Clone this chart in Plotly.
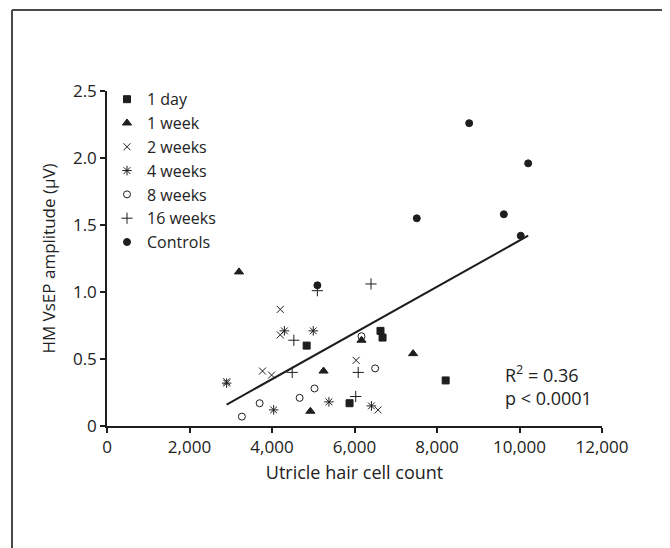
import plotly.graph_objects as go

# ---- data ----
day1_x = [4840, 5880, 6630, 6680, 8210]
day1_y = [0.60, 0.17, 0.71, 0.66, 0.34]

week1_x = [3200, 5250, 4930, 6170, 7420]
week1_y = [1.15, 0.41, 0.11, 0.64, 0.54]

week2_x = [4200, 4200, 3770, 3990, 6040, 6570, 2900]
week2_y = [0.87, 0.68, 0.41, 0.38, 0.49, 0.12, 0.33]

week4_x = [4300, 5000, 2900, 5380, 4040, 6410]
week4_y = [0.71, 0.71, 0.32, 0.18, 0.12, 0.15]

week8_x = [5030, 4670, 3700, 3270, 6170, 6500]
week8_y = [0.28, 0.21, 0.17, 0.07, 0.67, 0.43]

week16_x = [5100, 4530, 4490, 6400, 6090, 6030]
week16_y = [1.01, 0.64, 0.40, 1.06, 0.40, 0.22]

ctrl_x = [5100, 8780, 10210, 7510, 9620, 10030]
ctrl_y = [1.05, 2.26, 1.96, 1.55, 1.58, 1.42]

trend_x = [2900, 10210]
trend_y = [0.16, 1.42]

x_ticks = [0, 2000, 4000, 6000, 8000, 10000, 12000]
x_tick_labels = ["0", "2,000", "4,000", "6,000", "8,000", "10,000", "12,000"]
y_ticks = [0, 0.5, 1.0, 1.5, 2.0, 2.5]
y_tick_labels = ["0", "0.5", "1.0", "1.5", "2.0", "2.5"]

series = [
    ("1 day", day1_x, day1_y, "square", 7),
    ("1 week", week1_x, week1_y, "triangle-up", 8),
    ("2 weeks", week2_x, week2_y, "x-thin-open", 7),
    ("4 weeks", week4_x, week4_y, "asterisk-open", 8),
    ("8 weeks", week8_x, week8_y, "circle-open", 7),
    ("16 weeks", week16_x, week16_y, "cross-thin-open", 8),
    ("Controls", ctrl_x, ctrl_y, "circle", 7),
]

INK = "#1e1e1e"
FONT = "Open Sans"

fig = go.Figure()
for name, xs, ys, sym, sz in series:
    fig.add_trace(go.Scatter(
        x=xs, y=ys, mode="markers", name=name,
        marker=dict(symbol=sym, size=sz, color=INK,
                    line=dict(color=INK, width=1)),
    ))

fig.add_trace(go.Scatter(
    x=trend_x, y=trend_y, mode="lines", showlegend=False,
    line=dict(color=INK, width=2),
))

fig.add_annotation(
    x=9600, y=0.30, xref="x", yref="y",
    text="R<sup>2</sup> = 0.36<br>p < 0.0001",
    showarrow=False, xanchor="left", yanchor="middle", align="left",
    font=dict(family=FONT, size=18, color="#222"),
)

# page body has an 8px margin; figure coordinates are offset accordingly
OFF = 8
W, H = 670, 548
L, T = 107 - OFF, 91 - OFF
R = W - (602 - OFF)
B = H - (426 - OFF)
pw, ph = W - L - R, H - T - B


def px(x):
    return (x - OFF - L) / pw


def py(y):
    return (H - B - (y - OFF)) / ph


# outer frame (left and top edges visible)
fig.add_shape(type="line", xref="paper", yref="paper",
              x0=px(12), x1=px(12), y0=py(10), y1=py(600),
              line=dict(color="#4a4a4a", width=2))
fig.add_shape(type="line", xref="paper", yref="paper",
              x0=px(12), x1=px(700), y0=py(10), y1=py(10),
              line=dict(color="#4a4a4a", width=2))

fig.update_layout(
    width=W, height=H,
    margin=dict(l=L, r=R, t=T, b=B, autoexpand=False),
    paper_bgcolor="white", plot_bgcolor="white",
    font=dict(family=FONT, size=17, color="#222"),
    legend=dict(x=0.0, y=1.026, xanchor="left", yanchor="top",
                bgcolor="rgba(0,0,0,0)", font=dict(size=16),
                itemwidth=30),
    xaxis=dict(range=[0, 12000], tickvals=x_ticks, ticktext=x_tick_labels,
               showgrid=False, zeroline=False, showline=True,
               linecolor=INK, linewidth=1.5, ticks="outside", ticklen=5,
               tickcolor=INK, tickwidth=1.5, tickfont=dict(size=17),
               title=dict(text="Utricle hair cell count", standoff=9,
                          font=dict(size=18))),
    yaxis=dict(range=[0, 2.5], tickvals=y_ticks, ticktext=y_tick_labels,
               showgrid=False, zeroline=False, showline=True,
               linecolor=INK, linewidth=1.5, ticks="outside", ticklen=5,
               tickcolor=INK, tickwidth=1.5, tickfont=dict(size=17),
               title=dict(text="HM VsEP amplitude (μV)", standoff=13,
                          font=dict(size=17))),
)

fig.write_html("out.html")
